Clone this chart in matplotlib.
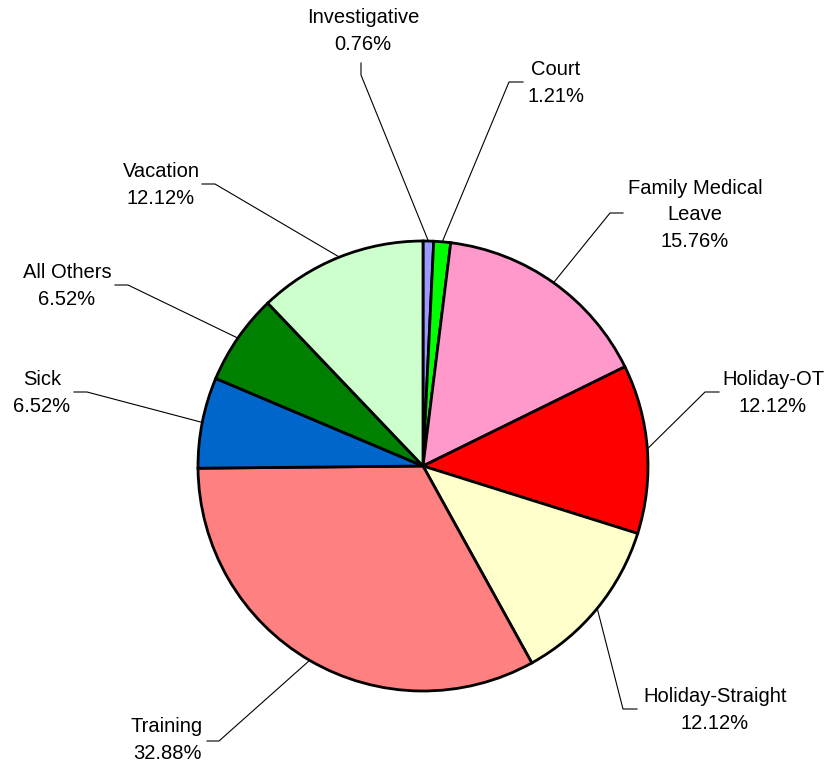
import numpy as np
import matplotlib.pyplot as plt

plt.rcParams['font.family'] = ['Liberation Sans', 'DejaVu Sans']

# data
categories = ["Investigative", "Court", "Family Medical\nLeave", "Holiday-OT",
              "Holiday-Straight", "Training", "Sick", "All Others", "Vacation"]
shares = [0.76, 1.21, 15.76, 12.12, 12.12, 32.88, 6.52, 6.52, 12.12]
colors = ["#9999FF", "#00FF00", "#FF99CC", "#FF0000", "#FFFFCC",
          "#FF8080", "#0066CC", "#008000", "#CCFFCC"]

W, H = 830, 766
# label layout in pixel coords: text centre, elbow point, end of short tick
label_pos = [(363, 31), (556, 83), (695, 215), (773, 393), (715, 710),
             (167, 740), (42, 393), (67, 286), (161, 185)]
elbows = [(361, 75), (509, 82), (610, 213), (705, 392), (623, 709),
          (219, 741), (87, 392), (128, 285), (215, 184)]
tick_ends = [(361, 63), (523, 82), (623, 213), (719, 392), (637, 709),
             (207, 741), (74, 392), (115, 285), (202, 184)]

fig = plt.figure(figsize=(W / 100, H / 100), dpi=100)
ax = fig.add_axes([0, 0, 1, 1])

cx, cy, r = 423, H - 466, 225
wedges, _ = ax.pie(shares, colors=colors, startangle=90, counterclock=False,
                   center=(cx, cy), radius=r, frame=True,
                   wedgeprops=dict(edgecolor='black', linewidth=2))
ax.set_xlim(0, W)
ax.set_ylim(0, H)
ax.axis('off')

# leader lines + labels
for w, cat, val, tp, el, te in zip(wedges, categories, shares, label_pos, elbows, tick_ends):
    mid = np.deg2rad((w.theta1 + w.theta2) / 2)
    x0 = cx + r * np.cos(mid)
    y0 = cy + r * np.sin(mid)
    ax.plot([x0, el[0], te[0]], [y0, H - el[1], H - te[1]],
            color='black', linewidth=0.8, zorder=0.5)
    ax.text(tp[0], H - tp[1], f"{cat}\n{val:.2f}%", ha='center', va='center',
            fontsize=14.5, linespacing=1.5)

fig.savefig("out.png", dpi=100)
